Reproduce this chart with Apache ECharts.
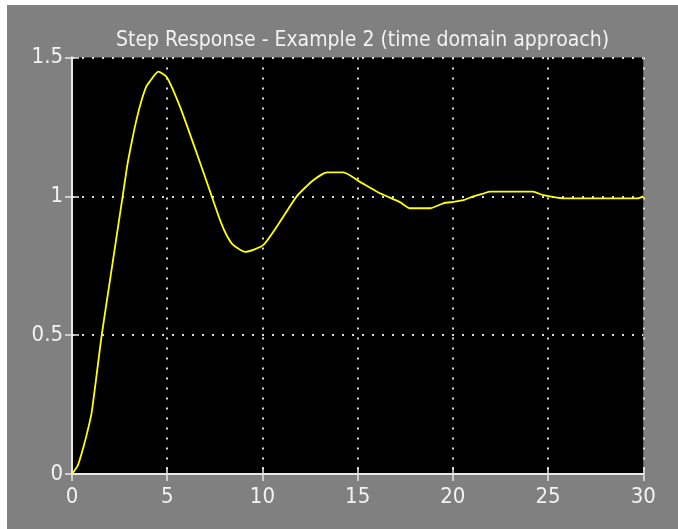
<!DOCTYPE html>
<html>
<head>
<meta charset="utf-8">
<script src="https://cdn.jsdelivr.net/npm/echarts@6/dist/echarts.min.js"></script>
<style>
html,body{margin:0;padding:0;background:#ffffff;width:678px;height:529px;overflow:hidden;}
#chart{position:absolute;left:7px;top:5px;width:671px;height:524px;}
</style>
</head>
<body>
<div id="chart"></div>
<script>
// Data
var titleText = 'Step Response - Example 2 (time domain approach)';
var time = [0, 0.3, 0.6, 0.8, 1.03, 1.56, 2.0, 2.66, 2.9, 3.15, 3.4, 3.65, 3.9, 4.1, 4.53, 4.97, 5.67, 6.55, 7.34, 7.8, 8.12, 8.46, 9.09, 10.05, 11.1, 11.8, 12.67, 13.4, 14.25, 15.1, 16.2, 17.2, 17.75, 18.8, 19.5, 20.03, 20.55, 21.08, 21.6, 21.95, 24.2, 24.75, 25.8, 29.7, 30];
var response = [0, 0.03, 0.097, 0.15, 0.22, 0.5, 0.70, 1.0, 1.11, 1.2, 1.28, 1.345, 1.395, 1.415, 1.449, 1.43, 1.323, 1.155, 1.0, 0.91, 0.86, 0.825, 0.80, 0.825, 0.927, 1.0, 1.058, 1.086, 1.086, 1.053, 1.01, 0.98, 0.957, 0.957, 0.975, 0.98, 0.986, 1.0, 1.01, 1.017, 1.017, 1.004, 0.993, 0.993, 1.0];
var xTicks = [0, 5, 10, 15, 20, 25, 30];
var yTicks = [0, 0.5, 1, 1.5];

var pts = time.map(function (t, i) { return [t, response[i]]; });
var FONT = '"Liberation Sans Narrow", "DejaVu Sans Condensed", "Liberation Sans", sans-serif';
var TXT = '#f2f2f2';
var AX = '#e8e8e8';
var gridLine = { show: true, lineStyle: { color: '#d8d8d8', width: 2, type: [2, 8] } };

var chart = echarts.init(document.getElementById('chart'));
chart.setOption({
  backgroundColor: '#808080',
  animation: false,
  title: {
    text: titleText,
    left: 350.5, top: 20, textAlign: 'center',
    textStyle: { color: TXT, fontFamily: FONT, fontWeight: 'normal', fontSize: 21 }
  },
  grid: { left: 65, top: 52.5, right: 34.7, bottom: 55, backgroundColor: '#000000', show: true, borderWidth: 0 },
  xAxis: [{
    type: 'value', min: xTicks[0], max: xTicks[xTicks.length - 1], interval: 5,
    axisLine: { show: true, lineStyle: { color: AX, width: 2 } },
    axisTick: { show: true, inside: true, length: 7, lineStyle: { color: AX, width: 1.5 } },
    axisLabel: { color: TXT, fontFamily: FONT, fontSize: 22, margin: 12 },
    splitLine: gridLine
  }, {
    type: 'value', position: 'top', min: xTicks[0], max: xTicks[xTicks.length - 1], interval: 5,
    axisLine: { show: true, lineStyle: { color: AX, width: 2 } },
    axisTick: { show: true, inside: true, length: 7, lineStyle: { color: AX, width: 1.5 } },
    axisLabel: { show: false }, splitLine: { show: false }
  }],
  yAxis: [{
    type: 'value', min: yTicks[0], max: yTicks[yTicks.length - 1], interval: 0.5,
    axisLine: { show: true, lineStyle: { color: AX, width: 2 } },
    axisTick: { show: true, inside: true, length: 7, lineStyle: { color: AX, width: 1.5 } },
    axisLabel: { color: TXT, fontFamily: FONT, fontSize: 22, margin: 9 },
    splitLine: gridLine
  }, {
    type: 'value', position: 'right', min: yTicks[0], max: yTicks[yTicks.length - 1], interval: 0.5,
    axisLine: { show: true, lineStyle: { color: AX, width: 2 } },
    axisTick: { show: true, inside: true, length: 7, lineStyle: { color: AX, width: 1.5 } },
    axisLabel: { show: false }, splitLine: { show: false }
  }],
  series: [{
    type: 'line', data: pts, showSymbol: false, smooth: 0.2,
    lineStyle: { color: '#ffff00', width: 1.8 },
    xAxisIndex: 0, yAxisIndex: 0
  }]
});
</script>
</body>
</html>
